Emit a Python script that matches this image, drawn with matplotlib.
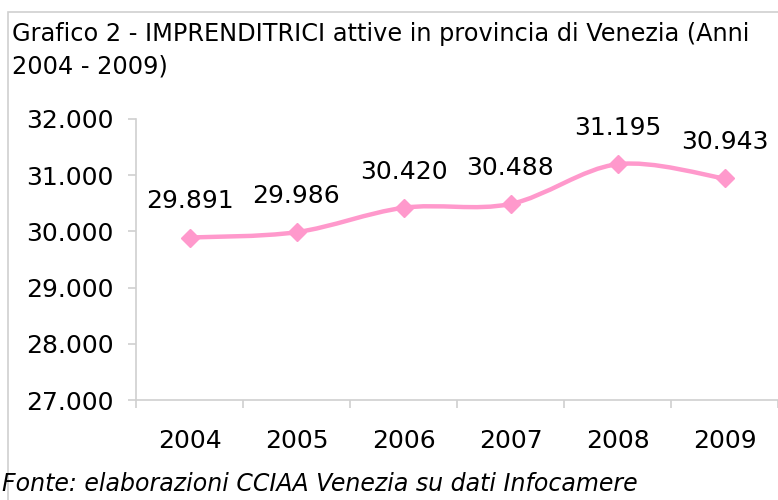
import numpy as np
import matplotlib.pyplot as plt
from matplotlib.path import Path
from matplotlib.patches import PathPatch, Rectangle
from matplotlib.ticker import FuncFormatter

anni = ['2004', '2005', '2006', '2007', '2008', '2009']
imprenditrici = [29891, 29986, 30420, 30488, 31195, 30943]

titolo = 'Grafico 2 - IMPRENDITRICI attive in provincia di Venezia (Anni\n2004 - 2009)'
fonte = 'Fonte: elaborazioni CCIAA Venezia su dati Infocamere'

rosa = '#FF99CC'
grigio = '#D0D0D0'

plt.rcParams['font.family'] = ['DejaVu Sans']

fig = plt.figure(figsize=(7.78, 5.0), dpi=100)
ax = fig.add_axes([136 / 778, 0.2, 1 - 136 / 778, 0.562])

# cornice del grafico
fig.patches.append(Rectangle((8 / 778, -0.1), 1.2, 1 - 12 / 500 + 0.1,
                             transform=fig.transFigure, fill=False,
                             edgecolor=grigio, lw=1.2))

x = np.arange(len(anni))
y = np.array(imprenditrici, dtype=float)

# linea smussata (bezier alla Excel)
verts = [(x[0], y[0])]
codes = [Path.MOVETO]
for i in range(len(x) - 1):
    p0 = (x[i - 1], y[i - 1]) if i > 0 else (x[i], y[i])
    p3 = (x[i + 2], y[i + 2]) if i + 2 < len(x) else (x[i + 1], y[i + 1])
    c1 = (x[i] + (x[i + 1] - p0[0]) / 6, y[i] + (y[i + 1] - p0[1]) / 6)
    c2 = (x[i + 1] - (p3[0] - x[i]) / 6, y[i + 1] - (p3[1] - y[i]) / 6)
    verts += [c1, c2, (x[i + 1], y[i + 1])]
    codes += [Path.CURVE4] * 3
ax.add_patch(PathPatch(Path(verts, codes), fill=False, edgecolor=rosa,
                       lw=3.2, capstyle='round', joinstyle='round'))
ax.plot(x, y, linestyle='none', marker='D', markersize=9, color=rosa)

for xi, yi in zip(x, y):
    ax.annotate(f'{int(yi):,}'.replace(',', '.'), (xi, yi),
                xytext=(0, 26), textcoords='offset points',
                ha='center', va='center', fontsize=18)

ax.set_xlim(-0.5, len(anni) - 0.5)
ax.set_ylim(27000, 32000)
ax.set_yticks(np.arange(27000, 32001, 1000))
ax.yaxis.set_major_formatter(FuncFormatter(lambda v, p: f'{int(v):,}'.replace(',', '.')))
ax.set_xticks(x)
ax.set_xticklabels(anni)
ax.set_xticks(np.arange(-0.5, len(anni)), minor=True)

for s in ['top', 'right']:
    ax.spines[s].set_visible(False)
for s in ['left', 'bottom']:
    ax.spines[s].set_color(grigio)
    ax.spines[s].set_linewidth(1.2)

ax.tick_params(axis='y', length=6, width=1.2, color=grigio, pad=10, labelsize=18)
ax.tick_params(axis='x', which='major', length=0, pad=21, labelsize=18)
ax.tick_params(axis='x', which='minor', length=6, width=1.2, color=grigio)

fig.text(12 / 778, 1 - 22 / 500, titolo, ha='left', va='top', fontsize=17.3,
         linespacing=1.45)
fig.text(2 / 778, 1 - 484 / 500, fonte, ha='left', va='center', fontsize=17,
         style='italic')

fig.savefig('out.png', dpi=100)
